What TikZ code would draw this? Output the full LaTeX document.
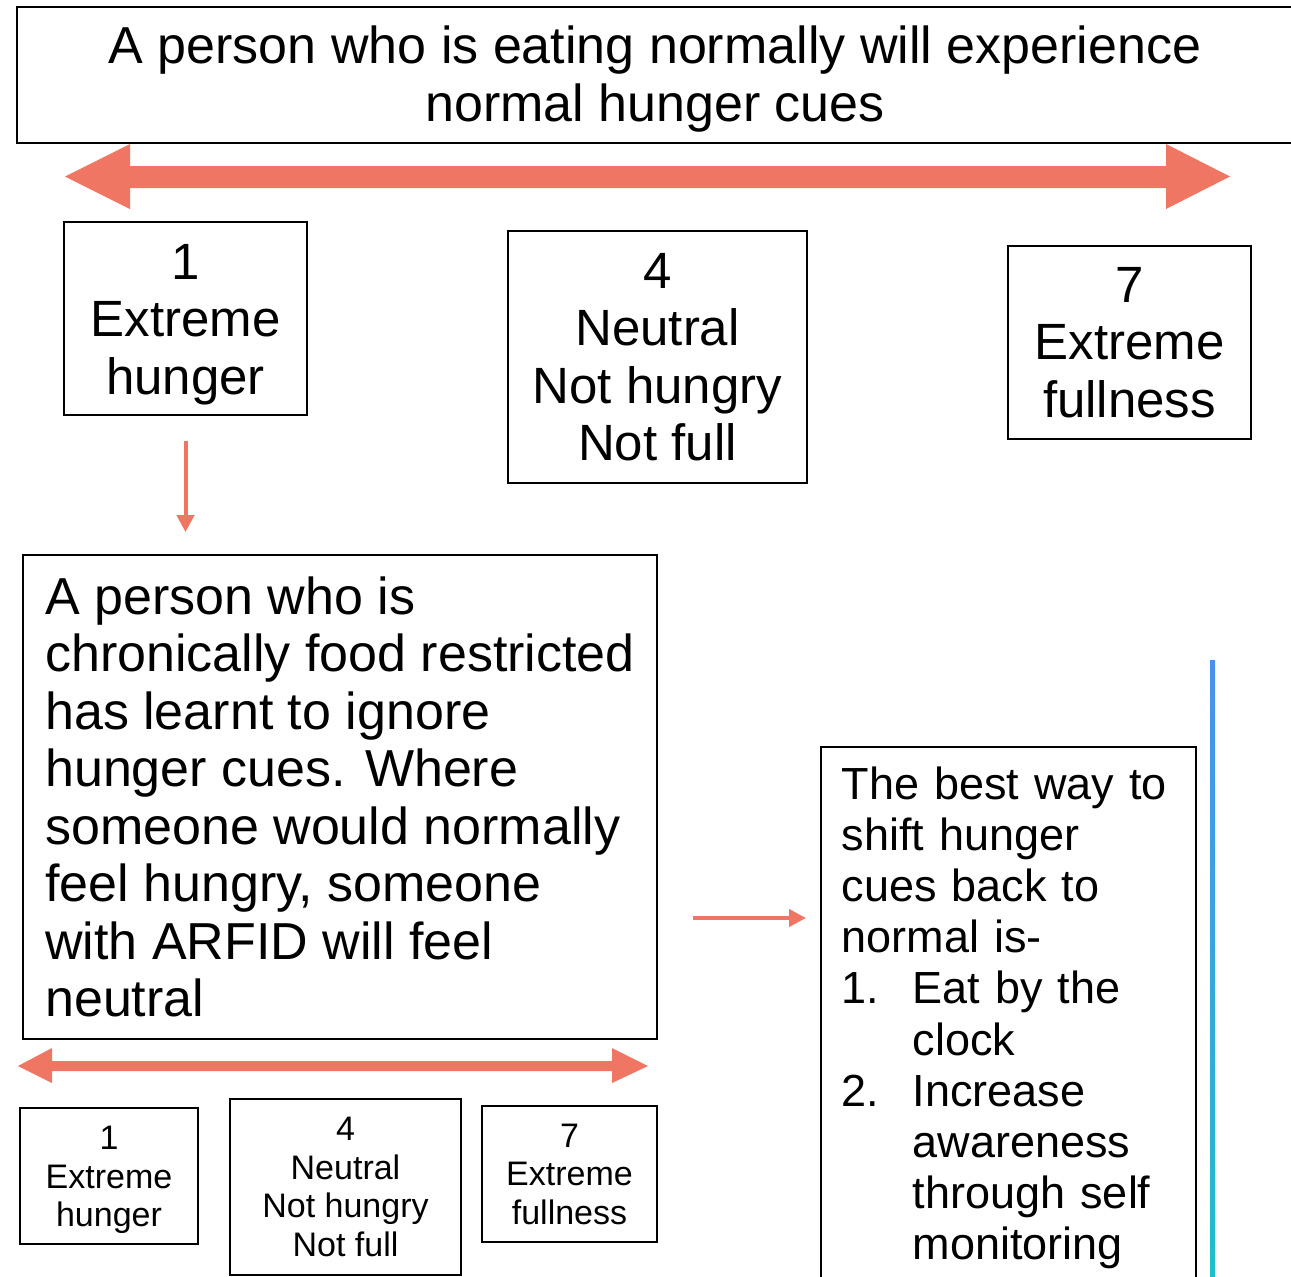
\documentclass[tikz,border=0pt]{standalone}
\usepackage{fontspec}
\setmainfont{Liberation Sans}
\usetikzlibrary{arrows.meta,calc}
\definecolor{salmon}{RGB}{238,118,98}
\definecolor{gblue}{RGB}{74,144,240}
\definecolor{gteal}{RGB}{32,190,200}
\begin{document}
\begin{tikzpicture}[x=1pt,y=-1pt,
  box/.style={draw=black, line width=1.8pt, inner sep=0pt, align=center},
  bigtxt/.style={font=\fontsize{51}{57.5}\selectfont},
  smalltxt/.style={font=\fontsize{34}{38.5}\selectfont},
  conn/.style={draw=salmon, line width=4pt, -{Triangle[length=17pt,width=17pt]}},
  blockarrow/.style={fill=salmon, draw=none}]
\clip (0,0) rectangle (1291,1277);
\fill[white] (0,0) rectangle (1291,1277);

% title box
\node[box, minimum width=1276pt, minimum height=136pt,
      font=\fontsize{52}{58}\selectfont] (title) at (655,75)
  {\rule{0pt}{46pt}A person who is eating normally will experience\\normal hunger cues};

% big double arrow
\fill[blockarrow] (65,176.5) -- (130,144) -- (130,166) -- (1166,166) -- (1166,144)
  -- (1230,176.5) -- (1166,209) -- (1166,188) -- (130,188) -- (130,209) -- cycle;

% scale boxes
\node[box, bigtxt, minimum width=243pt, minimum height=193pt] (b1) at (185.5,318.5)
  {\rule{0pt}{47pt}1\\Extreme\\hunger};
\node[box, bigtxt, minimum width=299pt, minimum height=252pt] (b4) at (657.5,357)
  {4\\Neutral\\Not hungry\\Not full};
\node[box, bigtxt, minimum width=243pt, minimum height=193pt] (b7) at (1129.5,342.5)
  {7\\Extreme\\fullness};

% middle box
\node[box, align=left, minimum width=634pt, minimum height=484pt,
      font=\fontsize{52}{57.5}\selectfont] (mid) at (340,797)
  {A person who is\\chronically food restricted\\has learnt to ignore\\hunger cues. Where\\someone would normally\\feel hungry, someone\\with ARFID will feel\\neutral};

% right box
\node[box, anchor=north west, align=left, text width=333pt, inner xsep=21pt,
      inner ysep=19.5pt, font=\fontsize{45}{51.2}\selectfont] (rb) at (820,746)
  {The best way to\\shift hunger\\cues back to\\normal is-\\
   \makebox[71pt][l]{1.}Eat by the\\\hspace*{71pt}clock\\
   \makebox[71pt][l]{2.}Increase\\\hspace*{71pt}awareness\\\hspace*{71pt}through self\\\hspace*{71pt}monitoring\\[30pt]};

% connectors
\draw[conn, shorten <=25pt, shorten >=22pt] (b1.south) -- (b1.south |- mid.north);
\coordinate (ra) at ($(mid.east)+(0,121)$);
\draw[conn, shorten <=35pt, shorten >=14pt] (ra) -- (ra -| rb.west);

% lower double arrow
\fill[blockarrow] (18,1066) -- (52,1048) -- (52,1061) -- (612,1061) -- (612,1048)
  -- (648,1066) -- (612,1083) -- (612,1071) -- (52,1071) -- (52,1083) -- cycle;

% small scale boxes
\node[box, smalltxt, minimum width=178pt, minimum height=136pt] (s1) at (109,1176)
  {\rule{0pt}{32pt}1\\Extreme\\hunger};
\node[box, smalltxt, minimum width=231pt, minimum height=176pt] (s4) at (345.5,1187)
  {4\\Neutral\\Not hungry\\Not full};
\node[box, smalltxt, minimum width=175pt, minimum height=136pt] (s7) at (569.5,1174)
  {7\\Extreme\\fullness};

% gradient vertical line
\shade[top color=gblue, bottom color=gteal] (1210,660) rectangle (1215,1277);
\end{tikzpicture}
\end{document}
